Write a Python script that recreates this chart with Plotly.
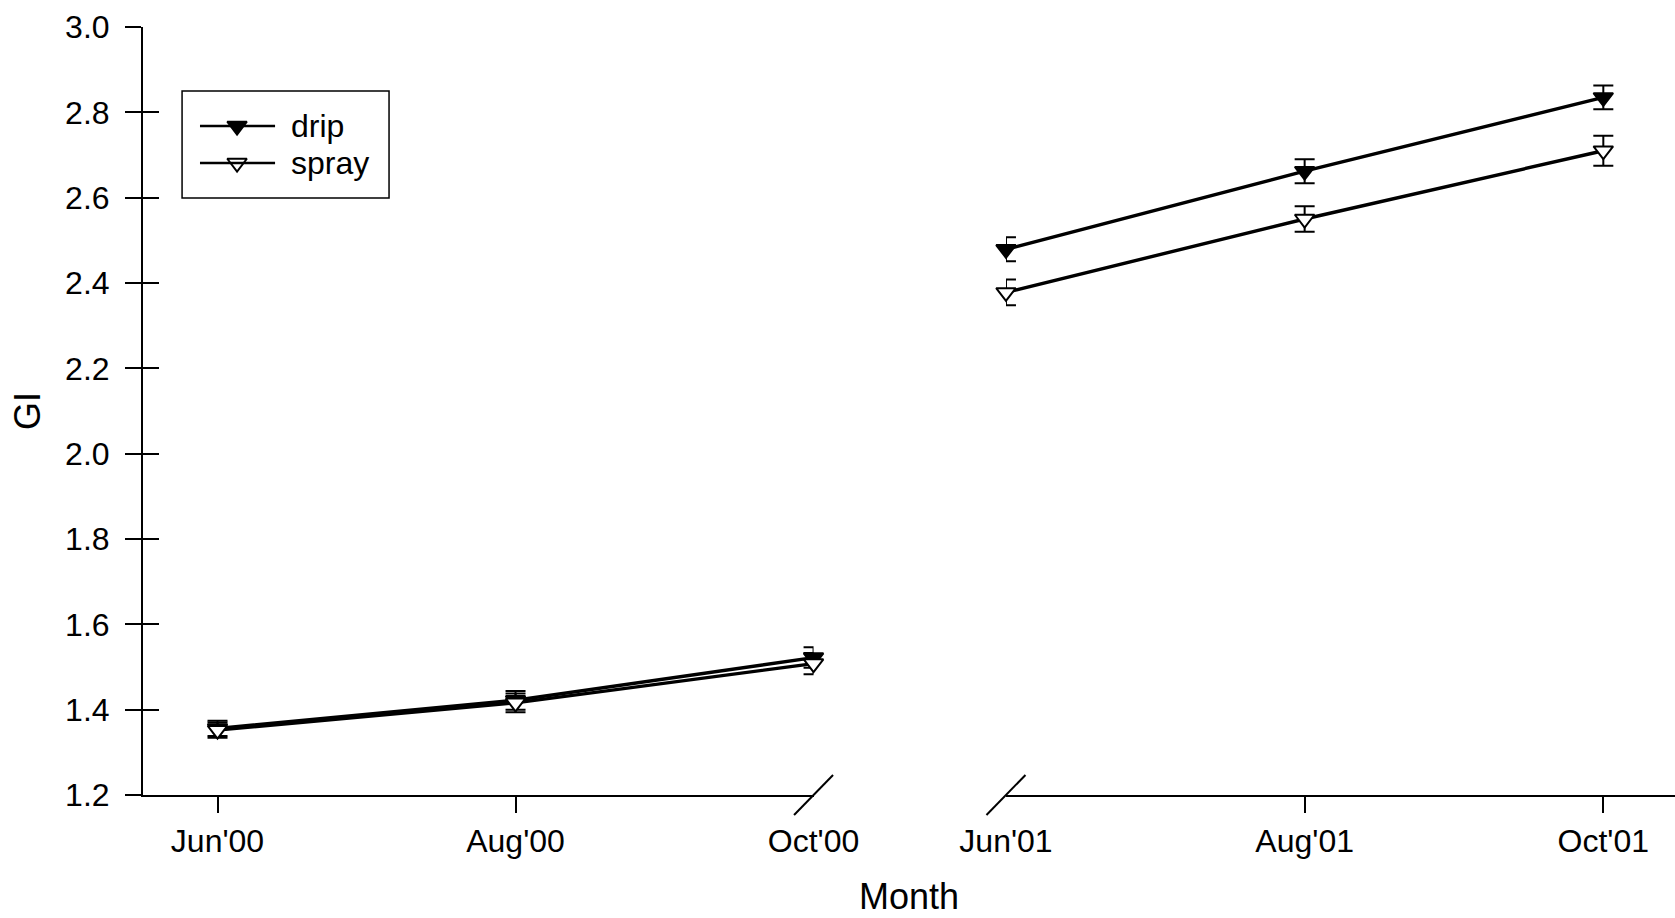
import plotly.graph_objects as go

# ---- data ----
months_2000 = ["Jun'00", "Aug'00", "Oct'00"]
months_2001 = ["Jun'01", "Aug'01", "Oct'01"]

drip_2000 = [1.356, 1.422, 1.522]
drip_2000_err = [0.018, 0.022, 0.024]
spray_2000 = [1.352, 1.416, 1.508]
spray_2000_err = [0.018, 0.022, 0.025]

drip_2001 = [2.479, 2.662, 2.835]
drip_2001_err = [0.028, 0.028, 0.028]
spray_2001 = [2.378, 2.550, 2.710]
spray_2001_err = [0.030, 0.030, 0.035]

y_ticks = [1.2, 1.4, 1.6, 1.8, 2.0, 2.2, 2.4, 2.6, 2.8, 3.0]

FONT = "Liberation Sans, Arial, sans-serif"
BLACK = "black"

LEFT_DOM = [0.0, 0.4377]
RIGHT_DOM = [0.5633, 1.0]
LEFT_RANGE = [-0.25, 2.0]
RIGHT_RANGE = [0.0, 2.24]

fig = go.Figure()

def err(arr):
    return dict(type="data", array=arr, visible=True, color=BLACK,
                thickness=2, width=10)

drip_marker = dict(symbol="triangle-down", size=17, color=BLACK,
                   line=dict(color=BLACK, width=2))
spray_marker = dict(symbol="triangle-down", size=17, color="white",
                    line=dict(color=BLACK, width=2))
line_style = dict(color=BLACK, width=3.4)

for xs, xa, d, de, s, se in [
    (months_2000, "x", drip_2000, drip_2000_err, spray_2000, spray_2000_err),
    (months_2001, "x2", drip_2001, drip_2001_err, spray_2001, spray_2001_err),
]:
    fig.add_trace(go.Scatter(x=xs, y=d, error_y=err(de), mode="lines+markers",
                             marker=drip_marker, line=line_style, xaxis=xa,
                             yaxis="y", name="drip", showlegend=False,
                             cliponaxis=False))
    fig.add_trace(go.Scatter(x=xs, y=s, error_y=err(se), mode="lines+markers",
                             marker=spray_marker, line=line_style, xaxis=xa,
                             yaxis="y", name="spray", showlegend=False,
                             cliponaxis=False))

# empty traces to register overlay axes
for xa, ya in [("x3", "y"), ("x4", "y"), ("x", "y2")]:
    fig.add_trace(go.Scatter(x=[], y=[], xaxis=xa, yaxis=ya, showlegend=False,
                             hoverinfo="skip"))

# ---- custom legend (paper-like hidden axes) ----
leg_box = dict(x0=0.0255, x1=0.1606, y0=0.7773, y1=0.9167)
leg_rows = [("drip", 0.8711, drip_marker), ("spray", 0.8229, spray_marker)]
leg_line_x = (0.0372, 0.0862)
leg_mark_x = 0.0614
leg_text_x = 0.0953

shapes = [dict(type="rect", xref="paper", yref="paper", line=dict(color=BLACK, width=1.5),
               fillcolor="white", layer="below", **leg_box)]
annotations = []
for name, yy, mk in leg_rows:
    shapes.append(dict(type="line", xref="paper", yref="paper", x0=leg_line_x[0],
                       x1=leg_line_x[1], y0=yy, y1=yy, line=dict(color=BLACK, width=2.5)))
    fig.add_trace(go.Scatter(x=[leg_mark_x], y=[yy], mode="markers", marker=mk,
                             xaxis="x5", yaxis="y3", showlegend=False,
                             hoverinfo="skip", cliponaxis=False))
    annotations.append(dict(text=name, x=leg_text_x, y=yy, xref="paper", yref="paper",
                            xanchor="left", yanchor="middle", showarrow=False,
                            font=dict(size=32, family=FONT, color=BLACK)))

# axis break slashes
for xa in [LEFT_DOM[1], RIGHT_DOM[0]]:
    shapes.append(dict(type="line", xref="paper", yref="paper",
                       xsizemode="pixel", ysizemode="pixel",
                       xanchor=xa, yanchor=0, x0=-19.5, x1=19.5, y0=-20, y1=20,
                       line=dict(color=BLACK, width=2)))

# axis titles
annotations.append(dict(text="Month", x=0.5, y=-0.1328, xref="paper", yref="paper",
                        xanchor="center", yanchor="middle", showarrow=False,
                        font=dict(size=36, family=FONT, color=BLACK)))
annotations.append(dict(text="GI", x=-0.0757, y=0.5, xref="paper", yref="paper",
                        xanchor="center", yanchor="middle", showarrow=False,
                        textangle=-90, font=dict(size=36, family=FONT, color=BLACK)))

tickfont = dict(size=32, family=FONT, color=BLACK)

label_xaxis = dict(type="category", showline=True, linecolor=BLACK, linewidth=2,
                   ticks="outside", ticklen=17, tickcolor="rgba(0,0,0,0)",
                   tickfont=tickfont, showgrid=False, zeroline=False, anchor="y",
                   fixedrange=True, automargin=False)
tick_xaxis = dict(type="linear", showline=False, ticks="outside", ticklen=17,
                  tickwidth=2, tickcolor=BLACK, showticklabels=False,
                  showgrid=False, zeroline=False, anchor="y", tickmode="array",
                  automargin=False)

fig.update_layout(
    width=1675, height=918, autosize=False,
    margin=dict(l=143, r=0, t=27, b=123, pad=0, autoexpand=False),
    paper_bgcolor="white", plot_bgcolor="rgba(0,0,0,0)",
    font=dict(family=FONT, color=BLACK),
    showlegend=False,
    xaxis=dict(label_xaxis, domain=LEFT_DOM, range=LEFT_RANGE,
               categoryorder="array", categoryarray=months_2000),
    xaxis2=dict(label_xaxis, domain=RIGHT_DOM, range=RIGHT_RANGE,
                categoryorder="array", categoryarray=months_2001),
    xaxis3=dict(tick_xaxis, overlaying="x", range=LEFT_RANGE,
                tickvals=list(range(len(months_2000) - 1))),
    xaxis4=dict(tick_xaxis, overlaying="x2", range=RIGHT_RANGE,
                tickvals=list(range(1, len(months_2001)))),
    xaxis5=dict(domain=[0, 1], range=[0, 1], visible=False, anchor="y3",
                automargin=False),
    yaxis=dict(range=[y_ticks[0], y_ticks[-1]], tickmode="array", tickvals=y_ticks,
               ticktext=[f"{v:.1f}" for v in y_ticks], ticks="outside", ticklen=16,
               tickwidth=2, tickcolor=BLACK, showline=True, linecolor=BLACK,
               linewidth=2, showgrid=False, zeroline=False, tickfont=tickfont,
               anchor="x", domain=[0, 1], automargin=False, ticklabelstandoff=9),
    yaxis2=dict(overlaying="y", range=[y_ticks[0], y_ticks[-1]], tickmode="array",
                tickvals=y_ticks, ticks="inside", ticklen=16, tickwidth=2,
                tickcolor=BLACK, showticklabels=False, showline=False,
                showgrid=False, zeroline=False, anchor="x", side="left",
                automargin=False),
    yaxis3=dict(domain=[0, 1], range=[0, 1], visible=False, anchor="x5",
                automargin=False),
    shapes=shapes,
    annotations=annotations,
)

fig.write_html("out.html", config={"responsive": False, "displayModeBar": False})
